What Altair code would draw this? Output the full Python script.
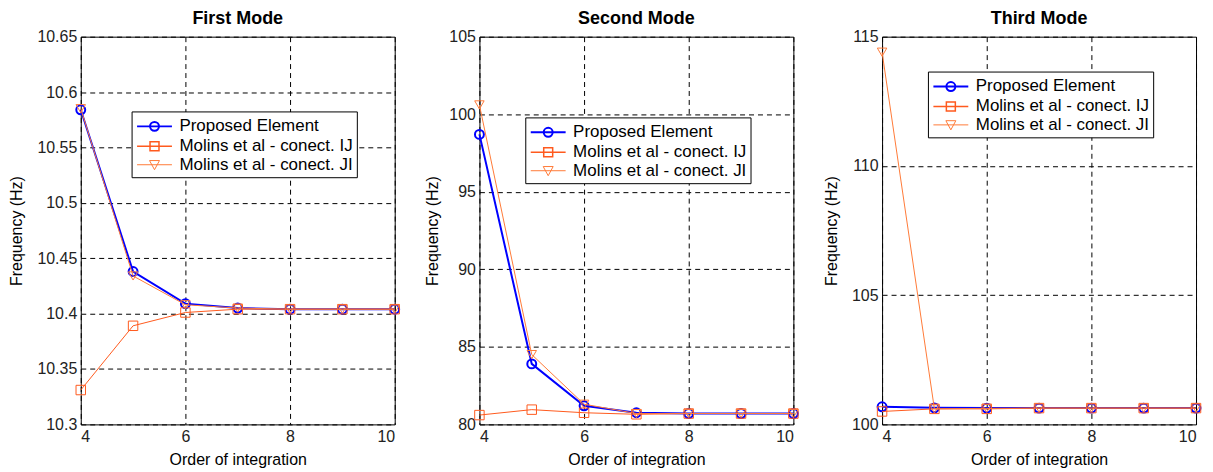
import altair as alt
import pandas as pd

orders = [4, 5, 6, 7, 8, 9, 10]
series_names = ["Proposed Element", "Molins et al - conect. IJ", "Molins et al - conect. JI"]
series_colors = ["#0000FF", "#FF5A1E", "#FF7A38"]

# First mode
m1_proposed = [10.584, 10.438, 10.409, 10.405, 10.404, 10.404, 10.404]
m1_ij = [10.331, 10.389, 10.401, 10.404, 10.404, 10.404, 10.404]
m1_ji = [10.585, 10.434, 10.408, 10.405, 10.404, 10.404, 10.404]
# Second mode
m2_proposed = [98.7, 83.9, 81.2, 80.75, 80.7, 80.7, 80.7]
m2_ij = [80.6, 80.95, 80.75, 80.65, 80.7, 80.7, 80.7]
m2_ji = [100.6, 84.5, 81.3, 80.7, 80.7, 80.7, 80.7]
# Third mode
m3_proposed = [100.68, 100.64, 100.63, 100.63, 100.63, 100.63, 100.63]
m3_ij = [100.5, 100.6, 100.6, 100.63, 100.63, 100.63, 100.63]
m3_ji = [114.4, 100.6, 100.62, 100.63, 100.63, 100.63, 100.63]

m1_yticks = [10.3, 10.35, 10.4, 10.45, 10.5, 10.55, 10.6, 10.65]
m2_yticks = [80, 85, 90, 95, 100, 105]
m3_yticks = [100, 105, 110, 115]
x_ticks = [4, 6, 8, 10]

marker_shapes = ["circle", "square", "triangle-down"]
marker_sizes = [80, 90, 90]
line_widths = [2, 1, 1]
legend_paths = [
    "M-1.75,0H1.75M-0.45,0A0.45,0.45 0 1,1 0.45,0A0.45,0.45 0 1,1 -0.45,0Z",
    "M-1.75,0H1.75M-0.45,-0.45H0.45V0.45H-0.45Z",
    "M-1.75,0H1.75M-0.5,-0.42H0.5L0,0.5Z",
]

FONT = "Liberation Sans"
W, H = 315, 389


def panel(title, ydomain, yticks, data, lx, ly, tpad):
    rows = []
    for name, vals in zip(series_names, data):
        for o, v in zip(orders, vals):
            rows.append({"order": o, "freq": v, "series": name})
    df = pd.DataFrame(rows)
    x = alt.X("order:Q", scale=alt.Scale(domain=[4, 10], nice=False, zero=False),
              axis=alt.Axis(values=x_ticks, title="Order of integration", labelPadding=4, titlePadding=7))
    y = alt.Y("freq:Q", scale=alt.Scale(domain=ydomain, nice=False, zero=False),
              axis=alt.Axis(values=yticks, format="~g", title="Frequency (Hz)", titlePadding=tpad))
    base = alt.Chart(df)
    layers = []
    for i, name in enumerate(series_names):
        sub = base.transform_filter(alt.datum.series == name)
        layers.append(sub.mark_line(color=series_colors[i], strokeWidth=line_widths[i]).encode(x=x, y=y))
        layers.append(sub.mark_point(shape=marker_shapes[i], size=marker_sizes[i], filled=False,
                                     color=series_colors[i], strokeWidth=line_widths[i], opacity=1)
                      .encode(x=x, y=y))
    leg = alt.Legend(title=None, orient="none", legendX=lx, legendY=ly,
                     strokeColor="black", fillColor="white", padding=4,
                     labelFont=FONT, labelFontSize=17, labelColor="black", labelLimit=400,
                     symbolSize=400, symbolOpacity=1, rowPadding=0,
                     symbolOffset=8, labelOffset=14, cornerRadius=0)
    legend_layer = base.mark_point(filled=False, opacity=0).encode(
        x=x, y=y,
        color=alt.Color("series:N", scale=alt.Scale(domain=series_names, range=series_colors), legend=leg),
        shape=alt.Shape("series:N", scale=alt.Scale(domain=series_names, range=legend_paths), legend=leg),
        strokeWidth=alt.StrokeWidth("series:O", scale=alt.Scale(domain=series_names, range=line_widths), legend=leg),
    )
    return alt.layer(*layers, legend_layer).properties(
        width=W, height=H,
        title=alt.TitleParams(title, fontSize=18, fontWeight="bold", font=FONT, color="black", offset=1),
    )


p1 = panel("First Mode", [10.3, 10.65], m1_yticks, [m1_proposed, m1_ij, m1_ji], 51, 75, 12)
p2 = panel("Second Mode", [80, 105], m2_yticks, [m2_proposed, m2_ij, m2_ji], 46, 81, 8)
p3 = panel("Third Mode", [100, 115], m3_yticks, [m3_proposed, m3_ij, m3_ji], 46, 35, 12)

chart = alt.hconcat(p1, p2, p3, spacing=20).resolve_legend(
    color="independent", shape="independent", strokeWidth="independent"
).resolve_scale(
    color="independent", shape="independent", strokeWidth="independent"
).properties(padding=0).configure(background="white").configure_view(
    stroke="black", strokeWidth=1
).configure_axis(
    grid=True, gridColor="black", gridDash=[5, 4], gridWidth=1, gridOpacity=1,
    domain=False, ticks=False,
    labelFont=FONT, labelFontSize=16, labelColor="#222222", labelPadding=4,
    titleFont=FONT, titleFontSize=16, titleFontWeight="normal", titleColor="black", titlePadding=6,
)

chart.save("out.html", embed_options={"renderer": "svg", "actions": False})
